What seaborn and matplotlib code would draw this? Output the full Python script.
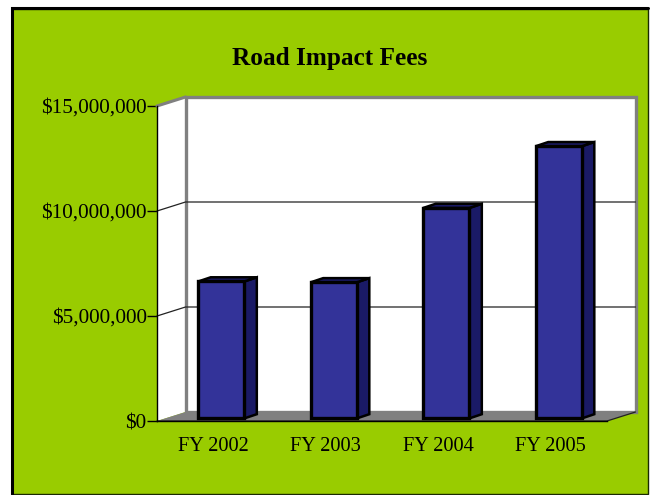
import matplotlib
matplotlib.use("Agg")
import matplotlib.pyplot as plt
from matplotlib.patches import Polygon, Rectangle
from matplotlib.ticker import FuncFormatter
from matplotlib.transforms import Affine2D
import seaborn as sns
import pandas as pd

fiscal_years = ["FY 2002", "FY 2003", "FY 2004", "FY 2005"]
fees = [6520000, 6480000, 10020000, 12960000]
y_ticks = [0, 5000000, 10000000, 15000000]
title_text = "Road Impact Fees"

GREEN = "#99CC00"
BAR = "#333399"
BAR_DARK = "#1A1A66"
GREY = "#808080"
W, H = 650, 495

sns.set_theme(style="white")
plt.rcParams["font.family"] = ["Liberation Serif", "DejaVu Serif"]

fig = plt.figure(figsize=(W / 100, H / 100), dpi=100, facecolor="white")

# panel and its border, kept behind the axes
fig.add_artist(Rectangle((12 / W, 1 - 494 / H), 636 / W, 485 / H, transform=fig.transFigure,
                         facecolor=GREEN, edgecolor="#1a2a00", linewidth=1, zorder=-2))
fig.add_artist(plt.Line2D([12 / W, 12 / W, 648 / W], [1 - 494 / H, 1 - 8 / H, 1 - 8 / H],
                          color="black", linewidth=2.2, transform=fig.transFigure,
                          solid_joinstyle="miter", zorder=-1))

# front plane of the 3-D box
ax = fig.add_axes([157 / W, 1 - 421 / H, 450 / W, 315 / H])
ax.set_facecolor("none")

frame = pd.DataFrame({"year": fiscal_years, "fee": fees})
sns.barplot(data=frame, x="year", y="fee", color=BAR, saturation=1, width=0.41,
            edgecolor="black", linewidth=2.4, ax=ax, zorder=5)
ax.set_ylim(y_ticks[0], y_ticks[-1])
ax.set_yticks(y_ticks)
ax.yaxis.set_major_formatter(FuncFormatter(lambda v, _: f"${v:,.0f}"))
ax.set_xlabel("")
ax.set_ylabel("")
ax.tick_params(axis="y", length=7, width=1, color="black", labelsize=15.2, labelcolor="black", pad=0.5, left=True)
ax.tick_params(axis="x", length=0, labelsize=14.7, labelcolor="black", pad=11.5)
for name, spine in ax.spines.items():
    spine.set_visible(name in ("left", "bottom"))
    spine.set_color("black")
    spine.set_linewidth(1)

DX, DY = 28.5, 9.0   # depth of the box in pixels


def shift(dx, dy):
    return Affine2D().translate(dx, dy)


back = ax.transAxes + shift(DX, DY)
xy_ax = ax.transAxes


def pts(points):
    """points: (axes x, axes y, depth 0..1) -> pixel coordinates"""
    return [tuple(xy_ax.transform((a, b)) + (d * DX, d * DY)) for a, b, d in points]


identity = Affine2D()
ax.add_patch(Polygon(pts([(0, 0, 0), (0, 0, 1), (0, 1, 1), (0, 1, 0)]), transform=identity,
                     facecolor="white", edgecolor="none", clip_on=False, zorder=1))
ax.add_patch(Rectangle((0, 0), 1, 1, transform=back, facecolor="white", edgecolor=GREY,
                       linewidth=2.4, clip_on=False, zorder=1.2))
ax.add_patch(Polygon(pts([(0, 0, 0), (1, 0, 0), (1, 0, 1), (0, 0, 1)]), transform=identity,
                     facecolor=GREY, edgecolor="none", clip_on=False, zorder=1.5))
ax.add_line(plt.Line2D(*zip(*pts([(0, 1, 0), (0, 1, 1)])), transform=identity, color=GREY,
                       linewidth=2.2, clip_on=False, zorder=2))
ax.add_line(plt.Line2D(*zip(*pts([(0, 0, 0), (1, 0, 0), (1, 0, 1)])), transform=identity, color="#222222",
                       linewidth=0.9, clip_on=False, zorder=2))

# gridlines on back and side walls
for t in y_ticks[1:-1]:
    frac = t / y_ticks[-1]
    ax.add_line(plt.Line2D(*zip(*pts([(0, frac, 0), (0, frac, 1), (1, frac, 1)])), transform=identity,
                           color="#222222", linewidth=0.9, clip_on=False, zorder=2))

# bars: the seaborn faces are pushed into the box, sides and top are built from them
BDX, BDY = 8.0, 2.6      # front face inset
SDX, SDY = 12.5, 4.2     # bar depth
data_tr = ax.transData
faces = [p for p in ax.patches if isinstance(p, Rectangle) and p.get_zorder() == 5]
for patch in faces:
    x0, w, h = patch.get_x(), patch.get_width(), patch.get_height()
    patch.set_transform(data_tr + shift(BDX, BDY))
    patch.set_clip_on(False)
    patch.set_joinstyle("miter")
    b = data_tr.transform((x0 + w, 0)) + (BDX, BDY)
    c = data_tr.transform((x0 + w, h)) + (BDX, BDY)
    d = data_tr.transform((x0, h)) + (BDX, BDY)
    off = (SDX, SDY)
    ax.add_patch(Polygon([b, b + off, c + off, c], transform=identity, facecolor=BAR_DARK,
                         edgecolor="black", linewidth=1.8, clip_on=False, zorder=4))
    ax.add_patch(Polygon([d, c, c + off, d + off], transform=identity, facecolor=BAR_DARK,
                         edgecolor="black", linewidth=1.8, clip_on=False, zorder=4))

fig.text(330 / W, 1 - 59 / H, title_text, ha="center", va="center", fontsize=18.2,
         fontweight="bold", color="black")

fig.savefig("out.png", dpi=100, facecolor="white")
